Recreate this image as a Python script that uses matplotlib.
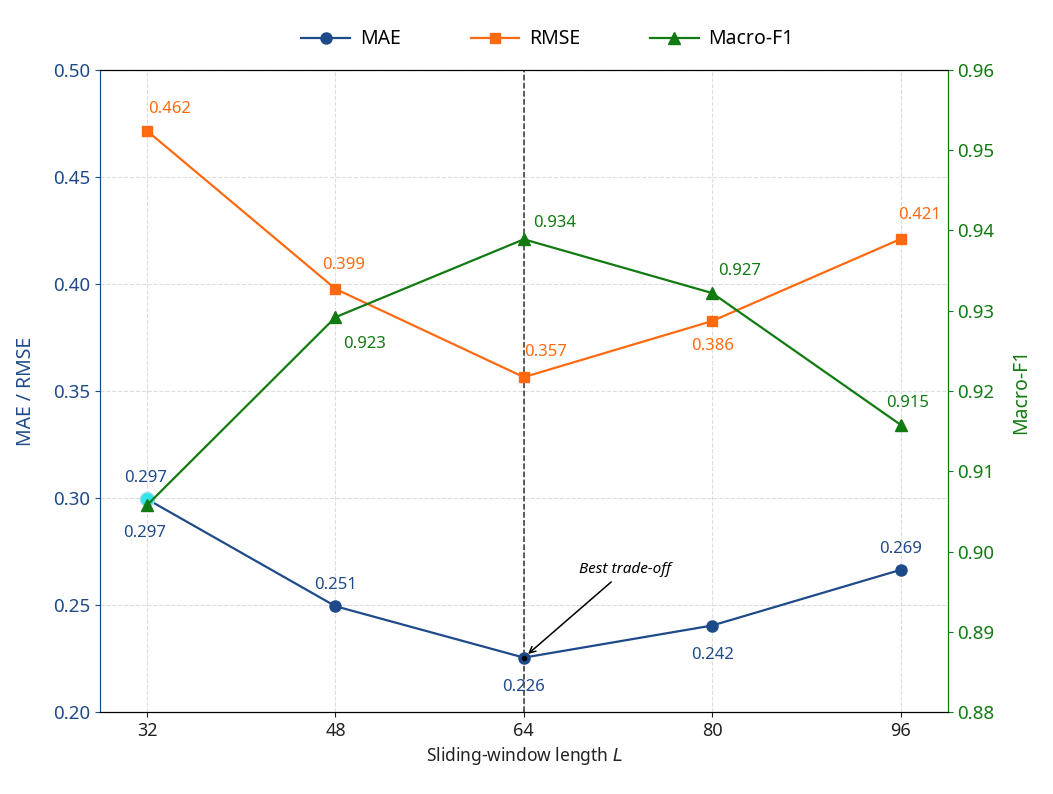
import numpy as np
import matplotlib.pyplot as plt

plt.rcParams['font.family'] = ['Noto Sans', 'DejaVu Sans']

#######################################################################################
# DATA
#######################################################################################
window = [32, 48, 64, 80, 96]
mae = [0.2995, 0.2495, 0.2255, 0.2405, 0.2665]
rmse = [0.4715, 0.3977, 0.3565, 0.3827, 0.4210]
f1 = [0.9058, 0.9292, 0.9389, 0.9322, 0.9158]
mae_text = ['0.297', '0.251', '0.226', '0.242', '0.269']
rmse_text = ['0.462', '0.399', '0.357', '0.386', '0.421']
f1_text = ['0.297', '0.923', '0.934', '0.927', '0.915']

c_mae = '#1f4a8a'
c_rmse = '#ff6a10'
c_f1 = '#117a11'

fig = plt.figure(figsize=(10.53, 7.94), dpi=100)
ax = fig.add_axes([0.095, 0.103, 0.805, 0.809])
ax2 = ax.twinx()

# grid + best-L marker line
ax.grid(True, color='#dddddd', linestyle='--', linewidth=0.8)
ax.set_axisbelow(True)
ax.axvline(64, color='#333333', linestyle='--', linewidth=1.1, zorder=1)

l1, = ax.plot(window, mae, '-o', color=c_mae, lw=1.6, ms=8, label='MAE', zorder=3)
l2, = ax.plot(window, rmse, '-s', color=c_rmse, lw=1.6, ms=7, label='RMSE', zorder=3)
l3, = ax2.plot(window, f1, '-^', color=c_f1, lw=1.6, ms=8, label='Macro-F1', zorder=3)

# highlight at L=32 and best point
ax.plot(window[0], mae[0], 'o', ms=10, mfc='#2ee6ea', mec='#8fdcea', mew=1, zorder=4)
ax.plot(window[2], mae[2], 'o', ms=3, color='black', zorder=4)

# value labels
mae_off = [(-1, 15), (0, 15), (0, -21), (0, -21), (0, 15)]
for x, y, t, o in zip(window, mae, mae_text, mae_off):
    ax.annotate(t, (x, y), xytext=o, textcoords='offset points', ha='center',
                va='center', color=c_mae, fontsize=12)
rmse_off = [(16, 16), (6, 17), (16, 18), (0, -18), (14, 17)]
for x, y, t, o in zip(window, rmse, rmse_text, rmse_off):
    ax.annotate(t, (x, y), xytext=o, textcoords='offset points', ha='center',
                va='center', color=c_rmse, fontsize=12)
f1_off = [(-2, -20), (21, -19), (22, 12), (20, 16), (5, 16)]
for i, (x, y, t, o) in enumerate(zip(window, f1, f1_text, f1_off)):
    col = c_mae if i == 0 else c_f1
    ax2.annotate(t, (x, y), xytext=o, textcoords='offset points', ha='center',
                 va='center', color=col, fontsize=12)

ax.annotate('Best trade-off', xy=(window[2], mae[2]), xytext=(68.7, 0.2665),
            fontsize=11, style='italic', ha='left', va='center',
            arrowprops=dict(arrowstyle='->', color='black', lw=1.1,
                            shrinkA=2, shrinkB=4), zorder=5)

ax.set_xlim(28, 100)
ax.set_ylim(0.20, 0.50)
ax2.set_ylim(0.88, 0.96)
ax.set_xticks(window)
ax.set_yticks(np.arange(0.20, 0.501, 0.05))
ax2.set_yticks(np.arange(0.88, 0.961, 0.01))
ax.yaxis.set_major_formatter(plt.FormatStrFormatter('%.2f'))
ax2.yaxis.set_major_formatter(plt.FormatStrFormatter('%.2f'))

ax.tick_params(axis='x', labelsize=13, colors='#222222')
ax.tick_params(axis='y', labelsize=13.5, colors=c_mae)
ax2.tick_params(axis='y', labelsize=13.5, colors=c_f1)
ax.spines['left'].set_color(c_mae)
ax2.spines['left'].set_color(c_mae)
ax2.spines['right'].set_color(c_f1)

ax.set_xlabel('Sliding-window length $L$', fontsize=12.5, color='#222222')
ax.set_ylabel('MAE / RMSE', fontsize=14, color=c_mae, labelpad=12)
ax2.set_ylabel('Macro-F1', fontsize=14, color=c_f1, labelpad=12)

fig.legend(handles=[l1, l2, l3], loc='upper center', ncol=3, frameon=False,
           fontsize=14, bbox_to_anchor=(0.52, 0.985), columnspacing=3.6,
           handlelength=2.5, handletextpad=0.5)

fig.savefig('out.png', dpi=100)
